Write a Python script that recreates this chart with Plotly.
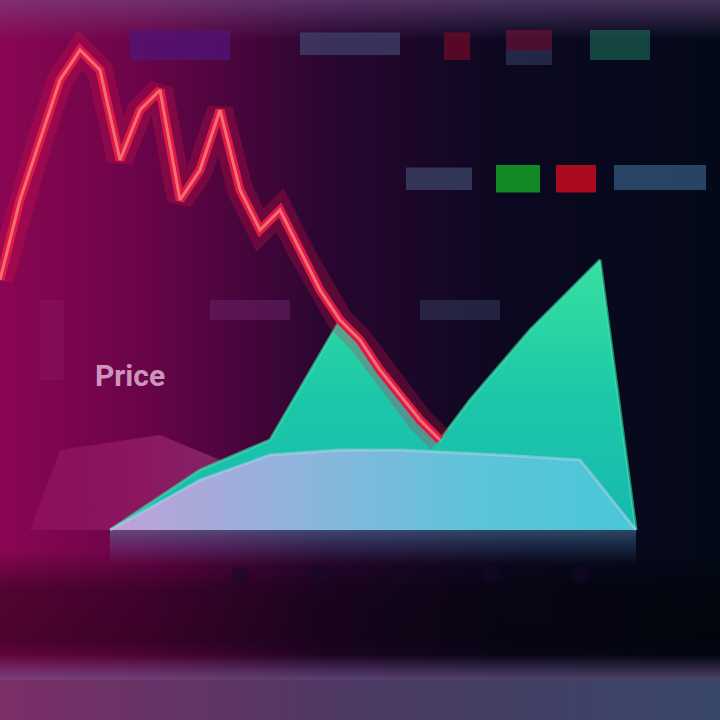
import plotly.graph_objects as go

# ---- data ----
price_x = [0, 1, 2, 3, 4, 5, 6, 7, 8, 9, 10, 11, 12, 13, 14, 15, 16, 17, 18, 19, 20, 21, 22]
price_y = [50, 66, 78, 90, 96, 92, 74, 84, 88, 66, 72, 84, 68, 60, 64, 56, 48, 42, 38, 32, 27, 22, 18]

upper_x = [5.5, 10, 13.5, 17, 19.5, 22, 23.5, 26.5, 30, 31.8]
upper_y = [0, 12, 18, 42, 30, 18, 26, 40, 54, 0]

lower_x = [5.5, 10, 13.5, 17, 20, 25, 29, 31.8]
lower_y = [0, 10, 15, 16, 16, 15, 14, 0]

glow_x = [1.5, 3, 8, 11, 13]
glow_y = [0, 16, 19, 14, 0]

tick_pos = [12, 16, 20, 24.5, 29]

X0, X1 = 0, 36
Y0, Y1 = -38, 106

fig = go.Figure()

def rect_trace(x0, x1, y0, y1, scale, kind="horizontal", opacity=1.0):
    return go.Scatter(x=[x0, x1, x1, x0, x0], y=[y0, y0, y1, y1, y0], mode="lines",
                      line=dict(width=0), fill="toself",
                      fillgradient=dict(type=kind, colorscale=scale),
                      opacity=opacity, hoverinfo="skip")

# background
fig.add_trace(rect_trace(X0, X1, Y0, Y1,
    [[0, "#8a0652"], [0.2, "#6a0448"], [0.45, "#2a0630"], [0.7, "#0c0820"], [1, "#030918"]]))
# top strip (soft)
fig.add_trace(rect_trace(X0, X1, 98, Y1,
    [[0, "rgba(120,80,140,0)"], [1, "rgba(120,80,140,0.55)"]], kind="vertical"))
# dark band below the chart (soft edges)
fig.add_trace(rect_trace(X0, X1, -30, -4,
    [[0, "rgba(0,0,0,0)"], [0.3, "rgba(0,0,0,0.45)"], [0.7, "rgba(0,0,0,0.4)"], [1, "rgba(0,0,0,0)"]],
    kind="vertical"))
# bottom lighter band
fig.add_trace(rect_trace(X0, X1, Y0, -30,
    [[0, "#7a3068"], [0.5, "#4e3c66"], [1, "#3a4a6c"]], opacity=0.95))
fig.add_trace(rect_trace(X0, X1, -30, -25,
    [[0, "rgba(110,90,140,0.7)"], [1, "rgba(110,90,140,0)"]], kind="vertical"))

# pink glow area lower left
fig.add_trace(go.Scatter(x=glow_x, y=glow_y, mode="lines", line=dict(width=0),
                         fill="toself",
                         fillgradient=dict(type="horizontal",
                                           colorscale=[[0, "rgba(200,60,140,0.15)"], [0.5, "rgba(200,60,140,0.35)"],
                                                       [1, "rgba(210,90,170,0.45)"]]),
                         hoverinfo="skip"))

# upper (green) area
fig.add_trace(go.Scatter(x=upper_x, y=upper_y, mode="lines",
                         line=dict(color="rgba(60,230,170,0.6)", width=3),
                         fill="tozeroy",
                         fillgradient=dict(type="vertical",
                                           colorscale=[[0, "#18b8b0"], [0.5, "#1cc8a8"], [1, "#38e0a0"]]),
                         hoverinfo="skip"))
# lower (light blue) area
fig.add_trace(go.Scatter(x=lower_x, y=lower_y, mode="lines",
                         line=dict(color="rgba(190,210,240,0.5)", width=3),
                         fill="tozeroy",
                         fillgradient=dict(type="horizontal",
                                           colorscale=[[0, "#c0a0d8"], [0.35, "#90b4dc"], [0.7, "#5cc4d8"], [1, "#48c8d8"]]),
                         hoverinfo="skip"))
# soft glow under areas
fig.add_trace(rect_trace(5.5, 31.8, -7, 0,
    [[0, "rgba(60,110,160,0)"], [1, "rgba(90,150,190,0.45)"]], kind="vertical"))

# red price line with glow
fig.add_trace(go.Scatter(x=price_x, y=price_y, mode="lines",
                         line=dict(color="rgba(230,20,70,0.25)", width=26), hoverinfo="skip"))
fig.add_trace(go.Scatter(x=price_x, y=price_y, mode="lines",
                         line=dict(color="#e0184a", width=9), hoverinfo="skip"))
fig.add_trace(go.Scatter(x=price_x, y=price_y, mode="lines",
                         line=dict(color="#f07070", width=3), hoverinfo="skip"))

# x tick dots
fig.add_trace(go.Scatter(x=tick_pos, y=[-9] * len(tick_pos), mode="markers",
                         marker=dict(color="rgba(20,10,40,0.5)", size=18, symbol="circle"),
                         hoverinfo="skip"))

shapes = []
def blob(x0, x1, y0, y1, color):
    shapes.append(dict(type="rect", xref="x", yref="y", x0=x0, x1=x1, y0=y0, y1=y1,
                       fillcolor=color, line=dict(width=0), layer="above"))

# legend row 1
blob(6.5, 11.5, 94, 100, "rgba(80,20,120,0.75)")
blob(15, 20, 95, 99.5, "rgba(70,80,120,0.6)")
blob(22.2, 23.5, 94, 99.5, "rgba(130,10,40,0.6)")
blob(25.3, 27.6, 96, 100, "rgba(120,20,60,0.6)")
blob(25.3, 27.6, 93, 96, "rgba(60,70,110,0.5)")
blob(29.5, 32.5, 94, 100, "rgba(30,110,90,0.6)")
# legend row 2
blob(20.3, 23.6, 68, 72.5, "rgba(70,85,120,0.6)")
blob(24.8, 27, 67.5, 73, "rgba(20,160,40,0.85)")
blob(27.8, 29.8, 67.5, 73, "rgba(200,10,30,0.85)")
blob(30.7, 35.3, 68, 73, "rgba(60,100,140,0.65)")
# faint labels
blob(10.5, 14.5, 42, 46, "rgba(110,40,110,0.45)")
blob(21, 25, 42, 46, "rgba(60,70,100,0.45)")
blob(2, 3.2, 30, 46, "rgba(160,40,120,0.2)")

fig.add_annotation(x=6.5, y=31, xref="x", yref="y", text="<b>Price</b>", showarrow=False,
                   font=dict(family="Roboto", size=30, color="rgba(230,190,220,0.8)"))

fig.update_layout(width=720, height=720, margin=dict(l=0, r=0, t=0, b=0),
                  paper_bgcolor="#050818", plot_bgcolor="#050818", showlegend=False,
                  shapes=shapes,
                  xaxis=dict(range=[X0, X1], visible=False, fixedrange=True),
                  yaxis=dict(range=[Y0, Y1], visible=False, fixedrange=True))

fig.write_html("out.html", config={"displayModeBar": False},
               post_script="document.body.style.margin='0';document.body.style.background='#050818';")
